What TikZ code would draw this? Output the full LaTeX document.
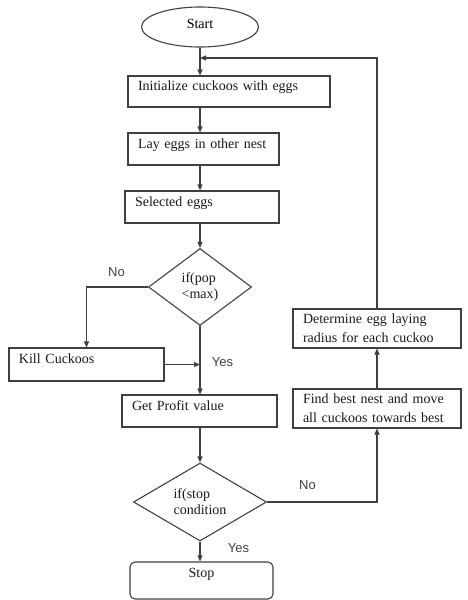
\documentclass[tikz,border=0pt]{standalone}
\usepackage{fontspec}
\setmainfont{Liberation Serif}
\newfontfamily\labelfont{Liberation Sans}
\usetikzlibrary{shapes.geometric,arrows.meta}

\begin{document}
\begin{tikzpicture}[x=1pt,y=-1pt,
    flow/.style={draw=black!75,line width=1.1pt,-{Triangle[length=6pt,width=5pt]}},
    boxbase/.style={rectangle,draw=black!75,line width=1.1pt,inner xsep=10pt,inner ysep=0pt,
        align=left,text=black!90},
    box/.style={boxbase,font=\fontsize{14}{17}\selectfont,text height=9pt,text depth=11pt},
    twobox/.style={boxbase,font=\fontsize{14}{19}\selectfont,text width=148pt,minimum height=39pt},
    decision/.style={diamond,draw=black!75,line width=1.1pt,inner sep=0pt,shape aspect=1.5,
        align=left,text=black!90,font=\fontsize{14}{16}\selectfont},
    yesno/.style={font=\labelfont\fontsize{13}{15}\selectfont,text=black!75}]
        \useasboundingbox (0,0) rectangle (468,600);

        \node[ellipse,draw=black!75,line width=1.1pt,inner sep=0pt,minimum width=117pt,minimum height=40pt,
            font=\fontsize{14}{17}\selectfont,text height=9pt,text depth=7pt] (start) at (200,27) {Start};
        \node[box,text width=182pt,minimum height=31pt] (init) at (229,91.5) {Initialize cuckoos with eggs};
        \node[box,text width=131pt,minimum height=32pt] (lay) at (203.5,149) {Lay eggs in other nest};
        \node[box,text width=134pt,minimum height=32pt] (sel) at (202,207) {Selected eggs};
        \node[decision,minimum width=103pt,minimum height=77pt] (popmax) at (200,287) {if(pop\\<max)};
        \node[box,text width=135pt,minimum height=33pt] (kill) at (86.5,364.5) {Kill Cuckoos};
        \node[box,text width=135pt,minimum height=32pt] (profit) at (199.5,411) {Get Profit value};
        \node[decision,minimum width=133pt,minimum height=78pt] (stopcond) at (200,502) {if(stop\\condition};
        \node[box,rounded corners=5pt,align=center,minimum width=143pt,minimum height=37pt,
            text depth=16pt] (stop) at (201.5,580.5) {Stop};
        \node[twobox] (radius) at (377,328.5) {Determine egg laying\\radius for each cuckoo};
        \node[twobox] (best) at (377,408.5) {Find best nest and move\\all cuckoos towards best};

        \node[yesno] (no1) at (116.5,272) {No};
        \node[yesno] (yes1) at (222.5,362) {Yes};
        \node[yesno] (no2) at (307.5,485) {No};
        \node[yesno] (yes2) at (238.5,548) {Yes};

        \coordinate (back) at (200,58);

        \draw[flow] (start.south) -- (start.south |- init.north);
        \draw[flow] (start.south |- init.south) -- (start.south |- lay.north);
        \draw[flow] (start.south |- lay.south) -- (start.south |- sel.north);
        \draw[flow] (start.south |- sel.south) -- (popmax.north);
        \draw[flow] (popmax.west) -| (kill.north);
        \draw[flow] (kill.east) -- (kill.east -| popmax.south);
        \draw[flow] (popmax.south) -- (start.south |- profit.north);
        \draw[flow] (start.south |- profit.south) -- (stopcond.north);
        \draw[flow] (stopcond.south) -- (start.south |- stop.north);
        \draw[flow] (stopcond.east) -| (best.south);
        \draw[flow] (best.north) -- (radius.south);
        \draw[flow] (radius.north) |- (back);
    \end{tikzpicture}
\end{document}
